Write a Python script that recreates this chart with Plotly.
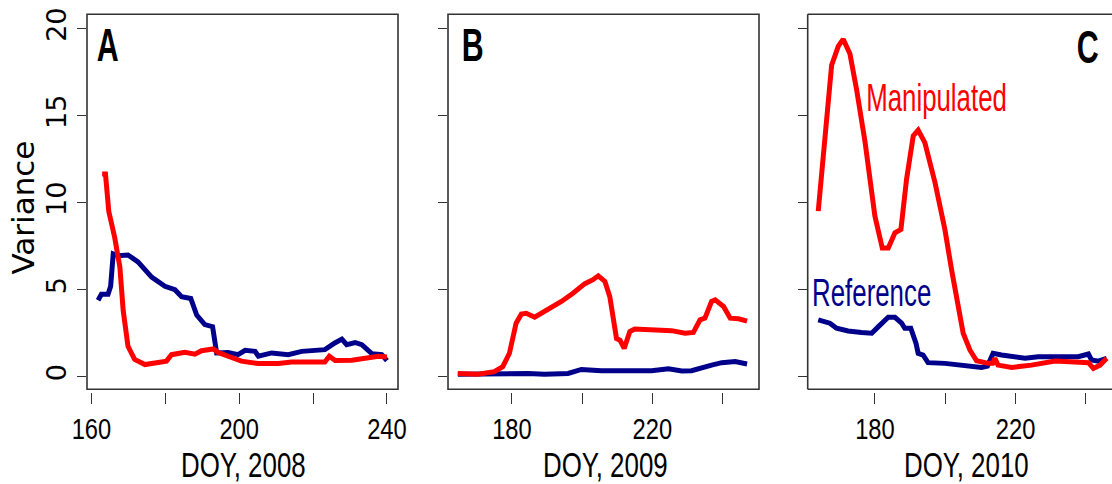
import plotly.graph_objects as go

# ---------------- data ----------------
a_man_x = [162.9, 163.8, 164.7, 166.3, 167.7, 168.6, 169.9, 171.7, 174.5, 179.0, 180.3, 181.7, 185.3, 188.0, 189.8, 193.0, 194.3, 197.0, 200.6, 205.2, 210.6, 214.2, 219.6, 223.2, 224.4, 226.0, 230.5, 235.0, 237.7, 240.0]
a_man_y = [11.65, 11.65, 9.5, 8.0, 6.3, 3.8, 1.75, 1.0, 0.7, 0.8, 0.9, 1.27, 1.4, 1.3, 1.5, 1.6, 1.4, 1.18, 0.9, 0.76, 0.76, 0.85, 0.85, 0.85, 1.18, 0.93, 0.95, 1.08, 1.18, 1.14]
a_ref_x = [161.8, 162.7, 164.5, 165.2, 165.9, 167.2, 169.9, 172.6, 176.3, 179.9, 182.6, 184.4, 186.9, 188.5, 190.7, 192.8, 193.9, 197.0, 199.7, 201.6, 204.3, 205.2, 208.8, 213.3, 216.9, 221.4, 223.2, 225.9, 227.8, 229.1, 231.4, 233.2, 235.9, 238.6, 240.0]
a_ref_y = [4.4, 4.74, 4.74, 5.2, 7.06, 6.96, 7.0, 6.6, 5.73, 5.2, 5.0, 4.6, 4.5, 3.55, 3.0, 2.88, 1.37, 1.4, 1.27, 1.52, 1.46, 1.18, 1.37, 1.27, 1.46, 1.5, 1.56, 1.94, 2.16, 1.84, 1.97, 1.84, 1.33, 1.27, 0.93]

b_man_x = [164.6, 170.3, 175.0, 177.4, 179.3, 181.2, 182.7, 184.1, 186.5, 188.4, 191.2, 194.1, 197.4, 200.8, 203.1, 204.6, 206.5, 207.9, 209.8, 210.8, 212.0, 213.6, 215.0, 219.8, 225.5, 229.3, 231.7, 233.6, 235.0, 236.9, 237.9, 240.3, 242.2, 244.6, 247.0]
b_man_y = [0.19, 0.15, 0.29, 0.58, 1.35, 3.08, 3.6, 3.65, 3.42, 3.65, 3.94, 4.33, 4.8, 5.35, 5.58, 5.8, 5.48, 4.6, 2.2, 2.1, 1.63, 2.6, 2.75, 2.7, 2.65, 2.5, 2.55, 3.27, 3.37, 4.33, 4.42, 4.04, 3.37, 3.33, 3.2]
b_ref_x = [164.6, 175.0, 184.6, 189.3, 196.0, 199.8, 205.5, 213.1, 219.8, 224.6, 228.4, 231.2, 234.1, 236.9, 239.8, 243.6, 247.0]
b_ref_y = [0.15, 0.19, 0.19, 0.15, 0.19, 0.42, 0.35, 0.35, 0.35, 0.46, 0.33, 0.35, 0.54, 0.67, 0.81, 0.87, 0.73]

c_man_x = [163.9, 165.8, 167.7, 169.6, 171.0, 172.9, 174.8, 177.2, 180.0, 182.1, 183.8, 185.7, 187.4, 189.0, 190.9, 192.3, 194.2, 197.1, 199.9, 201.8, 203.7, 205.1, 207.0, 208.9, 212.2, 213.5, 214.1, 215.0, 218.9, 224.5, 231.2, 235.9, 240.7, 242.1, 244.0, 245.9]
c_man_y = [9.52, 13.65, 17.9, 19.0, 19.4, 18.56, 16.5, 13.5, 9.23, 7.4, 7.4, 8.27, 8.46, 11.35, 13.85, 14.17, 13.46, 11.15, 8.46, 6.15, 4.23, 2.5, 1.54, 0.92, 0.77, 0.77, 1.06, 0.67, 0.54, 0.67, 0.9, 0.87, 0.81, 0.48, 0.67, 1.06]
c_ref_x = [163.9, 165.8, 167.2, 169.1, 172.4, 176.2, 179.1, 181.0, 183.8, 185.7, 187.6, 188.5, 190.2, 191.7, 192.3, 193.7, 195.1, 199.9, 203.7, 207.5, 210.3, 212.0, 213.6, 216.0, 219.8, 222.7, 226.4, 232.1, 237.8, 240.7, 241.6, 243.5, 245.9]
c_ref_y = [3.27, 3.17, 3.08, 2.79, 2.63, 2.54, 2.5, 2.88, 3.42, 3.42, 3.08, 2.79, 2.79, 1.92, 1.35, 1.25, 0.81, 0.77, 0.71, 0.58, 0.54, 0.62, 1.35, 1.25, 1.15, 1.06, 1.15, 1.15, 1.15, 1.31, 0.96, 0.9, 1.06]

panel_letters = ["A", "B", "C"]
x_titles = ["DOY, 2008", "DOY, 2009", "DOY, 2010"]
y_title = "Variance"
series_names = ["Manipulated", "Reference"]
y_ticks = [0, 5, 10, 15, 20]
x_ticks_a = [160, 180, 200, 220, 240]
x_labels_a = ["160", "", "200", "", "240"]
x_ticks_bc = [180, 200, 220, 240]
x_labels_bc = ["180", "", "220", ""]

# ---------------- style ----------------
W, H = 1112, 484
RED = "#FF0000"
BLUE = "#00008B"
AX = "#333333"
SANS = "Liberation Sans, Arial, sans-serif"
WIDE = "DejaVu Sans, sans-serif"

def fx(px):
    return px / W

def fy(py):
    return 1 - py / H

panel_px = [(87, 398), (448, 759), (807.7, W)]
top_px, bot_px = 14.3, 389.3
x_ranges = [[158.8, 243.0], [161.8, 250.4], [160.9, 247.4]]
y_range = [-0.72, 20.83]

fig = go.Figure()

data = [
    (a_man_x, a_man_y, a_ref_x, a_ref_y),
    (b_man_x, b_man_y, b_ref_x, b_ref_y),
    (c_man_x, c_man_y, c_ref_x, c_ref_y),
]

for i, (mx, my, rx, ry) in enumerate(data):
    xa = "x" if i == 0 else f"x{i+1}"
    ya = "y" if i == 0 else f"y{i+1}"
    fig.add_trace(go.Scatter(x=rx, y=ry, mode="lines", xaxis=xa, yaxis=ya,
                             line=dict(color=BLUE, width=5), name=series_names[1],
                             showlegend=False))
    fig.add_trace(go.Scatter(x=mx, y=my, mode="lines", xaxis=xa, yaxis=ya,
                             line=dict(color=RED, width=5), name=series_names[0],
                             showlegend=False))

layout = dict(
    template="none",
    width=W, height=H,
    margin=dict(l=0, r=0, t=0, b=0, pad=0, autoexpand=False),
    paper_bgcolor="white", plot_bgcolor="white",
    showlegend=False,
)

for i in range(3):
    l, r = panel_px[i]
    xk = "xaxis" if i == 0 else f"xaxis{i+1}"
    yk = "yaxis" if i == 0 else f"yaxis{i+1}"
    xa = "x" if i == 0 else f"x{i+1}"
    tv = x_ticks_a if i == 0 else x_ticks_bc
    tt = x_labels_a if i == 0 else x_labels_bc
    layout[xk] = dict(
        domain=[fx(l), min(1.0, fx(r))], range=x_ranges[i],
        anchor="free", position=fy(391.5), automargin=False,
        showgrid=False, zeroline=False, showline=False,
        ticks="outside", ticklen=11, tickwidth=1.4, tickcolor=AX,
        tickvals=tv, ticktext=tt,
        tickfont=dict(family=SANS, size=30, color="black"),
    )
    layout[yk] = dict(
        domain=[fy(bot_px), fy(top_px)], range=y_range, anchor=xa, automargin=False,
        showgrid=False, zeroline=False, showline=False,
        ticks="outside", ticklen=9, tickwidth=1.4, tickcolor=AX,
        tickvals=y_ticks,
        ticktext=[str(v) for v in y_ticks] if i == 0 else [""] * len(y_ticks),
        showticklabels=(i == 0),
        tickangle=-90,
        tickfont=dict(family=WIDE, size=27, color="black"),
    )

fig.update_layout(**layout)

shapes = []
for i in range(3):
    l, r = panel_px[i]
    lw = dict(color=AX, width=1.6)
    if i < 2:
        shapes.append(dict(type="rect", xref="paper", yref="paper",
                           x0=fx(l), x1=fx(r), y0=fy(bot_px), y1=fy(top_px),
                           line=lw, fillcolor="rgba(0,0,0,0)", layer="above"))
    else:
        for (x0, y0, x1, y1) in [(l, top_px, W, top_px), (l, top_px, l, bot_px), (l, bot_px, W, bot_px)]:
            shapes.append(dict(type="line", xref="paper", yref="paper",
                               x0=fx(x0), x1=fx(x1), y0=fy(y0), y1=fy(y1),
                               line=lw, layer="above"))
fig.update_layout(shapes=shapes)

ann = []
letter_pos = [(107.5, 45), (472, 45), (1087, 47)]
for i, (px, py) in enumerate(letter_pos):
    ann.append(dict(text=f"<b>{panel_letters[i]}</b>", x=fx(px), y=fy(py), xref="paper", yref="paper",
                    xanchor="center", yanchor="middle", showarrow=False,
                    font=dict(family=SANS, size=46, color="black")))
title_x = [243, 605.8, 966]
for i in range(3):
    ann.append(dict(text=x_titles[i], x=fx(title_x[i]), y=fy(464), xref="paper", yref="paper",
                    xanchor="center", yanchor="middle", showarrow=False,
                    font=dict(family=SANS, size=35, color="black")))
ann.append(dict(text=y_title, x=fx(22.5), y=fy(208), xref="paper", yref="paper",
                xanchor="center", yanchor="middle", showarrow=False, textangle=-90,
                font=dict(family=WIDE, size=31, color="black")))
ann.append(dict(text=series_names[0], x=fx(936.5), y=fy(98), xref="paper", yref="paper",
                xanchor="center", yanchor="middle", showarrow=False,
                font=dict(family=SANS, size=38, color=RED)))
ann.append(dict(text=series_names[1], x=fx(871.7), y=fy(293), xref="paper", yref="paper",
                xanchor="center", yanchor="middle", showarrow=False,
                font=dict(family=SANS, size=38, color=BLUE)))
fig.update_layout(annotations=ann)

# horizontal condensing of text (the original uses a narrow typeface)
post_js = """
var gd = document.getElementById('{plot_id}');
function sq(el, s) {
  var bb = el.getBBox();
  var cx = bb.x + bb.width / 2;
  var t = el.getAttribute('transform') || '';
  el.setAttribute('transform', t + ' translate(' + cx + ',0) scale(' + s + ',1) translate(' + (-cx) + ',0)');
}
gd.querySelectorAll('.xaxislayer-above text').forEach(function (el) { sq(el, 0.79); });
gd.querySelectorAll('.annotation-text').forEach(function (el) {
  var s = el.textContent;
  if (s === 'Variance') return;
  if (s.length === 1) sq(el, 0.66);
  else if (s.indexOf('DOY') === 0) sq(el, 0.74);
  else sq(el, 0.68);
});
"""

fig.write_html("out.html", post_script=post_js)
